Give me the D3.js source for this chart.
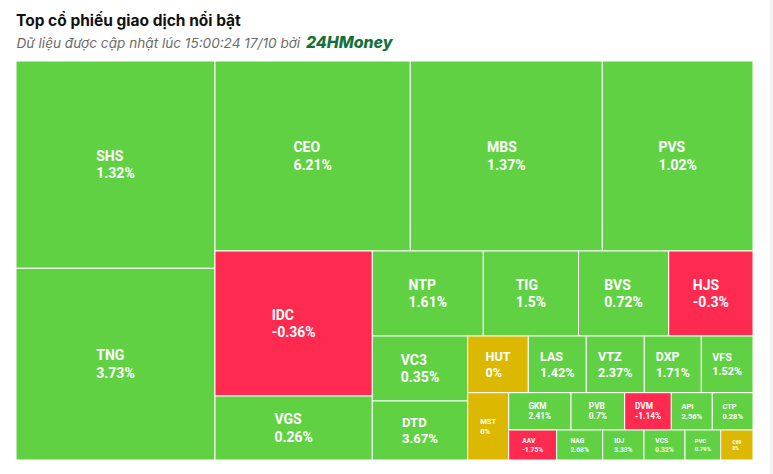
<!DOCTYPE html>
<html><head><meta charset="utf-8">
<script src="https://cdn.jsdelivr.net/npm/d3@7"></script>
<style>
body{margin:0;background:#fff;}
svg{display:block}
</style>
</head><body>
<svg id="chart" width="773" height="474"></svg>
<script>
// ---- data ----
const tickers = ["SHS","TNG","CEO","MBS","PVS","IDC","VGS","NTP","TIG","BVS","HJS","VC3","DTD","HUT","LAS","VTZ","DXP","VFS","MST","GKM","PVB","DVM","API","CTP","AAV","NAG","IDJ","VCS","PVC","C69"];
const tradeValues = [41253,38148,37107,36480,28633,22809,10067,9435,8092,7667,7166,6201,5629,3436,3289,3289,3232,2931,2759,2324,2003,1738,1529,1518,1440,1380,1239,1230,1071,969];
const changes = [1.32,3.73,6.21,1.37,1.02,-0.36,0.26,1.61,1.5,0.72,-0.3,0.35,3.67,0,1.42,2.37,1.71,1.52,0,2.41,0.7,-1.14,2.56,0.28,-1.75,2.68,3.33,0.32,0.79,0];
const titleText = "Top cổ phiếu giao dịch nổi bật";
const subtitleText = "Dữ liệu được cập nhật lúc 15:00:24 17/10 bởi ";
const brandText = "24HMoney";

// ---- layout constants ----
const M = {left:16, top:61, width:737, height:399};
const COLORS = {up:"#61d144", down:"#ff2a4f", flat:"#dcb800"};

const svg = d3.select("#chart");
svg.append("rect").attr("x",770).attr("y",0).attr("width",3).attr("height",474).attr("fill","#f3f3f3");

// title
svg.append("text").attr("x",16).attr("y",26)
  .attr("font-family","Inter, Roboto, sans-serif").attr("font-weight",700).attr("font-size",15.5)
  .attr("fill","#111").text(titleText);
const sub = svg.append("text").attr("x",16.5).attr("y",48)
  .attr("font-family","Inter, Roboto, sans-serif").attr("font-style","italic");
sub.append("tspan").attr("font-size",13.6).attr("fill","#6b6b6b").text(subtitleText);
sub.append("tspan").attr("dx",2).attr("font-size",15.9).attr("font-weight",800).attr("fill","#15713c").text(brandText);

// alternating-direction squarified tiling (column, row, column, ...)
function tileAlternating(parent, x0, y0, x1, y1) {
  const kids = parent.children;
  let rx0 = x0, ry0 = y0;
  const totalArea = (x1 - x0) * (y1 - y0);
  const area = n => totalArea * n.value / parent.value;
  let dir = 0;
  const ratio = (a, b) => Math.max(a / b, b / a);
  function lastRatio(sumA, pA) {
    const w = x1 - rx0, h = y1 - ry0;
    if (dir === 0) { const gw = sumA / h; return ratio(gw, pA / gw); }
    const gh = sumA / w; return ratio(pA / gh, gh);
  }
  function layout(items) {
    const sum = d3.sum(items, area);
    const w = x1 - rx0, h = y1 - ry0;
    if (dir === 0) {
      const gw = sum / h; let y = ry0;
      items.forEach(n => { const ph = area(n) / gw; n.x0 = rx0; n.x1 = rx0 + gw; n.y0 = y; n.y1 = y + ph; y += ph; });
      rx0 += gw;
    } else {
      const gh = sum / w; let x = rx0;
      items.forEach(n => { const pw = area(n) / gh; n.y0 = ry0; n.y1 = ry0 + gh; n.x0 = x; n.x1 = x + pw; x += pw; });
      ry0 += gh;
    }
    dir = 1 - dir;
  }
  let group = [];
  for (const n of kids) {
    if (group.length) {
      const prev = group[group.length - 1];
      const sOld = d3.sum(group, area);
      const sNew = sOld + area(n);
      if (lastRatio(sNew, area(prev)) > lastRatio(sOld, area(prev))) { layout(group); group = []; }
    }
    group.push(n);
  }
  if (group.length) layout(group);
}

const data = tickers.map((t, i) => ({name: t, value: tradeValues[i], change: changes[i]}));
const root = d3.hierarchy({children: data}).sum(d => d.value || 0);
d3.treemap().size([M.width, M.height]).tile(tileAlternating)(root);

const color = c => c > 0 ? COLORS.up : (c < 0 ? COLORS.down : COLORS.flat);

const g = svg.append("g").attr("transform", `translate(${M.left},${M.top})`);
const cells = g.selectAll("g.cell").data(root.leaves()).join("g").attr("class","cell");
cells.append("rect")
  .attr("x", d => d.x0).attr("y", d => d.y0)
  .attr("width", d => d.x1 - d.x0).attr("height", d => d.y1 - d.y0)
  .attr("fill", d => color(d.data.change))
  .attr("stroke", "#fff").attr("stroke-width", 1);

cells.each(function(d) {
  const w = d.x1 - d.x0, h = d.y1 - d.y0;
  const fs = Math.max(3.5, Math.min(14, h / 4.5, (w - 16) / 3.3));
  const lineH = fs * 1.25, capH = fs * 0.71;
  const cx = (d.x0 + d.x1) / 2, cy = (d.y0 + d.y1) / 2;
  const t = d3.select(this).append("text")
    .attr("font-family","Roboto, sans-serif").attr("font-weight",700)
    .attr("font-size", fs).attr("fill","#fff");
  const b1 = cy - (lineH - capH) / 2;
  const s1 = t.append("tspan").attr("y", b1).text(d.data.name);
  const s2 = t.append("tspan").attr("y", b1 + lineH).text(d.data.change + "%");
  const tw = Math.max(s1.node().getComputedTextLength(), s2.node().getComputedTextLength());
  s1.attr("x", cx - tw / 2); s2.attr("x", cx - tw / 2);
});
</script>
</body></html>
